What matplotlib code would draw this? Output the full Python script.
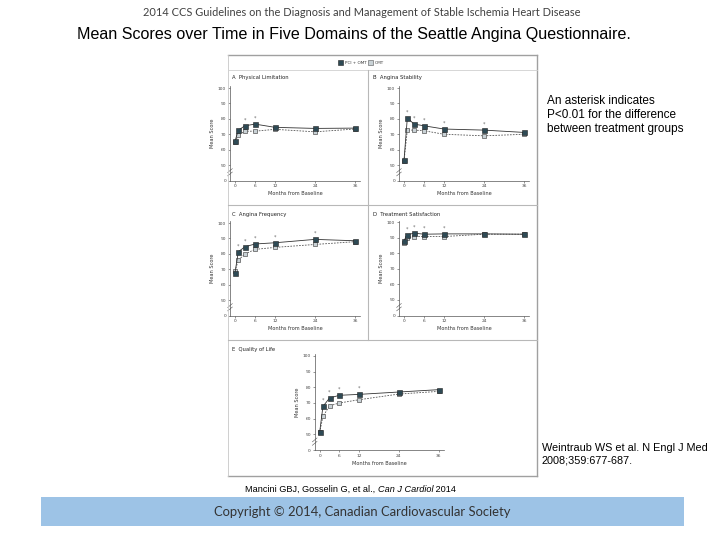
import matplotlib
matplotlib.use("Agg")
import matplotlib.pyplot as plt
from matplotlib.patches import Rectangle
from matplotlib.lines import Line2D

# data (mean score by month)
months = [0, 1, 3, 6, 12, 24, 36]
pci_phys = [65.5, 72.7, 75.5, 76.6, 74.5, 73.8, 74.0]
omt_phys = [65.0, 69.5, 72.0, 72.0, 73.2, 71.6, 73.4]
pci_stab = [53.0, 80.7, 76.6, 75.5, 73.4, 72.7, 71.2]
omt_stab = [52.6, 72.7, 72.7, 72.3, 70.0, 69.0, 70.0]
pci_freq = [67.7, 81.4, 84.6, 86.4, 87.2, 89.4, 88.5]
omt_freq = [68.8, 76.0, 79.9, 82.9, 84.2, 86.1, 87.9]
pci_sat = [88.1, 91.8, 92.9, 92.2, 92.4, 92.4, 92.2]
omt_sat = [86.4, 90.0, 90.7, 90.7, 90.7, 92.2, 92.2]
pci_qol = [51.3, 67.8, 73.2, 74.9, 75.5, 77.0, 78.5]
omt_qol = [51.3, 61.4, 68.2, 70.0, 72.1, 75.7, 77.4]

ast_phys = [3, 6]
ast_stab = [1, 3, 6, 12, 24]
ast_freq = [1, 3, 6, 12, 24]
ast_sat = [1, 3, 6, 12]
ast_qol = [1, 3, 6, 12]

xticks = [0, 6, 12, 24, 36]
yticks = [40, 50, 60, 70, 80, 90, 100]
ytick_labels = ["0", "50", "60", "70", "80", "90", "100"]

W, H = 720, 540
fig = plt.figure(figsize=(7.2, 5.4), dpi=100)
fig.patch.set_facecolor("white")

def px(x, y):
    return x / W, 1 - y / H

def px_axes(x0, y_top, x1, y_bot):
    return fig.add_axes([x0 / W, 1 - y_bot / H, (x1 - x0) / W, (y_bot - y_top) / H])

dark = "#2e4a55"
light = "#c9d2d6"
txt = "#444444"

def panel(ax, pci, omt, stars):
    ax.plot(months, omt, ls=(0, (2, 1.5)), color="#555555", lw=0.6,
            marker="s", ms=3.4, mfc=light, mec="#555555", mew=0.5, zorder=2)
    ax.plot(months, pci, ls="-", color="#333333", lw=0.6,
            marker="s", ms=3.6, mfc=dark, mec="#222222", mew=0.4, zorder=3)
    for m in stars:
        i = months.index(m)
        ax.text(m, pci[i] + 2.2, "*", ha="center", va="bottom",
                fontsize=3.5, color="#666666")
    ax.set_xlim(-1.5, 37.5)
    ax.set_ylim(40, 101)
    ax.set_xticks(xticks)
    ax.set_yticks(yticks)
    ax.set_yticklabels(ytick_labels)
    ax.tick_params(labelsize=3.2, length=1.5, width=0.4, pad=1.2, colors=txt)
    for s in ["top", "right"]:
        ax.spines[s].set_visible(False)
    for s in ["left", "bottom"]:
        ax.spines[s].set_linewidth(0.5)
        ax.spines[s].set_color("#555555")
    # axis break marks
    for dy in (0, 2.2):
        ax.plot([-2.2, -0.8], [43 + dy, 45.5 + dy], color="#555555", lw=0.4,
                clip_on=False)
    ax.set_xlabel("Months from Baseline", fontsize=3.6, color="#333333", labelpad=2)
    ax.set_ylabel("Mean Score", fontsize=3.6, color="#333333", labelpad=2)
    ax.set_facecolor("none")

# axes for the five panels
axA = px_axes(230, 86.5, 360, 180.5)
axB = px_axes(399, 86.5, 529, 180.5)
axC = px_axes(230, 221.5, 360, 315.5)
axD = px_axes(399, 220.5, 529, 315.5)
axE = px_axes(314.7, 354.4, 443.5, 450)

panel(axA, pci_phys, omt_phys, ast_phys)
panel(axB, pci_stab, omt_stab, ast_stab)
panel(axC, pci_freq, omt_freq, ast_freq)
panel(axD, pci_sat, omt_sat, ast_sat)
panel(axE, pci_qol, omt_qol, ast_qol)

# frame and panel separators
def fline(x0, y0, x1, y1, color="#b0b0b0", lw=0.8):
    a, b = px(x0, y0)
    c, d = px(x1, y1)
    fig.add_artist(Line2D([a, c], [b, d], color=color, lw=lw))

fline(228, 55, 537, 55, "#a0a0a0", 1.0)
fline(537, 55, 537, 476, "#a0a0a0", 1.0)
fline(228, 476, 537, 476, "#a0a0a0", 1.0)
fline(228, 55, 228, 476, "#c8c8c8", 0.6)
fline(228, 70, 537, 70, "#d0d0d0", 0.6)
fline(228, 205, 537, 205, "#b8b8b8", 0.8)
fline(228, 340, 537, 340, "#b8b8b8", 0.8)
fline(368, 70, 368, 340, "#b8b8b8", 0.8)

# panel titles
for x, y, s in [(232, 78, "A  Physical Limitation"), (373, 78, "B  Angina Stability"),
                (232, 214, "C  Angina Frequency"), (373, 214, "D  Treatment Satisfaction"),
                (232, 349, "E  Quality of Life")]:
    fig.text(*px(x, y), s, fontsize=3.8, color="#222222", va="center", ha="left")

# legend on top of the figure
for x, fc, ec in [(340, dark, "#222222"), (370, light, "#555555")]:
    a, b = px(x - 2.5, 65.5)
    fig.add_artist(Rectangle((a, b), 5 / W, 5 / H, facecolor=fc, edgecolor=ec, lw=0.4))
fig.text(*px(345, 63), "PCI + OMT", fontsize=3.0, color="#333333", va="center")
fig.text(*px(375, 63), "OMT", fontsize=3.0, color="#333333", va="center")

# slide texts
fig.text(*px(362, 12), "2014 CCS Guidelines on the Diagnosis and Management of Stable Ischemia Heart Disease",
         fontsize=7.9, family="Lato", color="#404040", ha="center", va="center")
fig.text(*px(354, 34), "Mean Scores over Time in Five Domains of the Seattle Angina Questionnaire.",
         fontsize=11.6, family="Liberation Sans", color="black", ha="center", va="center")
fig.text(*px(547, 115), "An asterisk indicates\nP<0.01 for the difference\nbetween treatment groups",
         fontsize=8.5, family="Liberation Sans", color="black", ha="left", va="center",
         linespacing=1.2)
fig.text(*px(542, 454), "Weintraub WS et al. N Engl J Med\n2008;359:677-687.",
         fontsize=7.8, family="Liberation Sans", color="black", ha="left", va="center",
         linespacing=1.3)

# citation with italic journal name, pieces placed one after another
fig.canvas.draw()
rend = fig.canvas.get_renderer()
xpos = 245
for s, st in [("Mancini GBJ, Gosselin G, et al., ", "normal"), ("Can J Cardiol", "italic"),
              (" 2014", "normal")]:
    t = fig.text(*px(xpos, 489), s, fontsize=6.6, style=st,
                 family="Liberation Sans", color="black", ha="left", va="center")
    xpos += t.get_window_extent(rend).width

a, b = px(41, 526)
fig.add_artist(Rectangle((a, b), (684 - 41) / W, (526 - 497) / H,
                         facecolor="#9dc3e6", edgecolor="none"))
fig.text(*px(362, 512), "Copyright \u00a9 2014, Canadian Cardiovascular Society",
         fontsize=9.4, family="Lato", color="#333333", ha="center", va="center")

fig.savefig("out.png", dpi=100)
